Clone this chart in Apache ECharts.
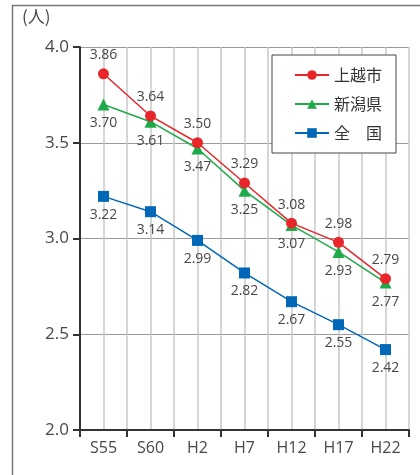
<!DOCTYPE html>
<html><head><meta charset="utf-8">
<script src="https://cdn.jsdelivr.net/npm/echarts@6/dist/echarts.min.js"></script>
<style>html,body{margin:0;padding:0;background:#fff}#c{width:420px;height:475px}</style>
</head><body><div id="c"></div>
<script>
const categories = ['S55','S60','H2','H7','H12','H17','H22'];
const joetsu = [3.86,3.64,3.50,3.29,3.08,2.98,2.79];
const niigata = [3.70,3.61,3.47,3.25,3.07,2.93,2.77];
const zenkoku = [3.22,3.14,2.99,2.82,2.67,2.55,2.42];
const yTicks = [2.0,2.5,3.0,3.5,4.0];

const font = '"Open Sans","Noto Sans CJK JP",sans-serif';
const cjk = '"Noto Sans CJK JP",sans-serif';
const chart = echarts.init(document.getElementById('c'));
const lbl = (pos) => ({show:true, position:pos, distance:6, color:'#484848', fontSize:14, fontFamily:font, formatter:p=>p.value.toFixed(2)});
chart.setOption({
  animation:false,
  backgroundColor:'#fff',
  textStyle:{fontFamily:font},
  grid:{left:80, right:11, top:47, bottom:45},
  graphic:[
    {type:'line', shape:{x1:12.5,y1:5,x2:12.5,y2:475}, style:{stroke:'#777', lineWidth:1.5}},
    {type:'line', shape:{x1:12,y1:5.5,x2:420,y2:5.5}, style:{stroke:'#777', lineWidth:1.5}},
    {type:'text', left:22, top:8, style:{text:'(人)', fontSize:17, fill:'#484848', fontFamily:cjk}}
  ],
  legend:{
    orient:'vertical', left:272, top:55, width:130,
    padding:[12,14,12,22],
    backgroundColor:'#fff', borderColor:'#444', borderWidth:1,
    itemWidth:34, itemHeight:12, itemGap:13,
    textStyle:{fontSize:16, color:'#333', fontFamily:cjk},
    data:['上越市','新潟県','全　国']
  },
  xAxis:[
    {type:'category', data:categories, boundaryGap:true,
     axisLine:{lineStyle:{color:'#333', width:2}},
     axisTick:{show:true, length:7, lineStyle:{color:'#333', width:2}},
     axisLabel:{color:'#484848', fontSize:16, margin:10, fontFamily:font},
     splitLine:{show:false}},
    {type:'value', min:0, max:14, interval:1, show:true, position:'bottom',
     axisLine:{show:false}, axisTick:{show:false}, axisLabel:{show:false},
     splitLine:{show:true, lineStyle:{color:'#c8c8c8', width:1.5}}}
  ],
  yAxis:{type:'value', min:2, max:4, interval:0.5,
    axisLine:{show:true, lineStyle:{color:'#333', width:2}},
    axisTick:{show:true, length:7, lineStyle:{color:'#333', width:2}},
    axisLabel:{color:'#484848', fontSize:17, margin:11, fontFamily:font, formatter:v=>yTicks.includes(v)?v.toFixed(1):''},
    splitLine:{show:true, lineStyle:{color:'#9a9a9a', width:1}}
  },
  series:[
    {name:'上越市', type:'line', data:joetsu, symbol:'circle', symbolSize:11,
     itemStyle:{color:'#e8262a'}, lineStyle:{color:'#e8262a', width:1.5}, label:lbl('top'), z:4},
    {name:'新潟県', type:'line', data:niigata, symbol:'triangle', symbolSize:12,
     itemStyle:{color:'#1faa4a'}, lineStyle:{color:'#1faa4a', width:1.5}, label:lbl('bottom'), z:3},
    {name:'全　国', type:'line', data:zenkoku, symbol:'rect', symbolSize:11,
     itemStyle:{color:'#0068b7'}, lineStyle:{color:'#0068b7', width:1.5}, label:lbl('bottom'), z:3}
  ]
});
</script></body></html>
